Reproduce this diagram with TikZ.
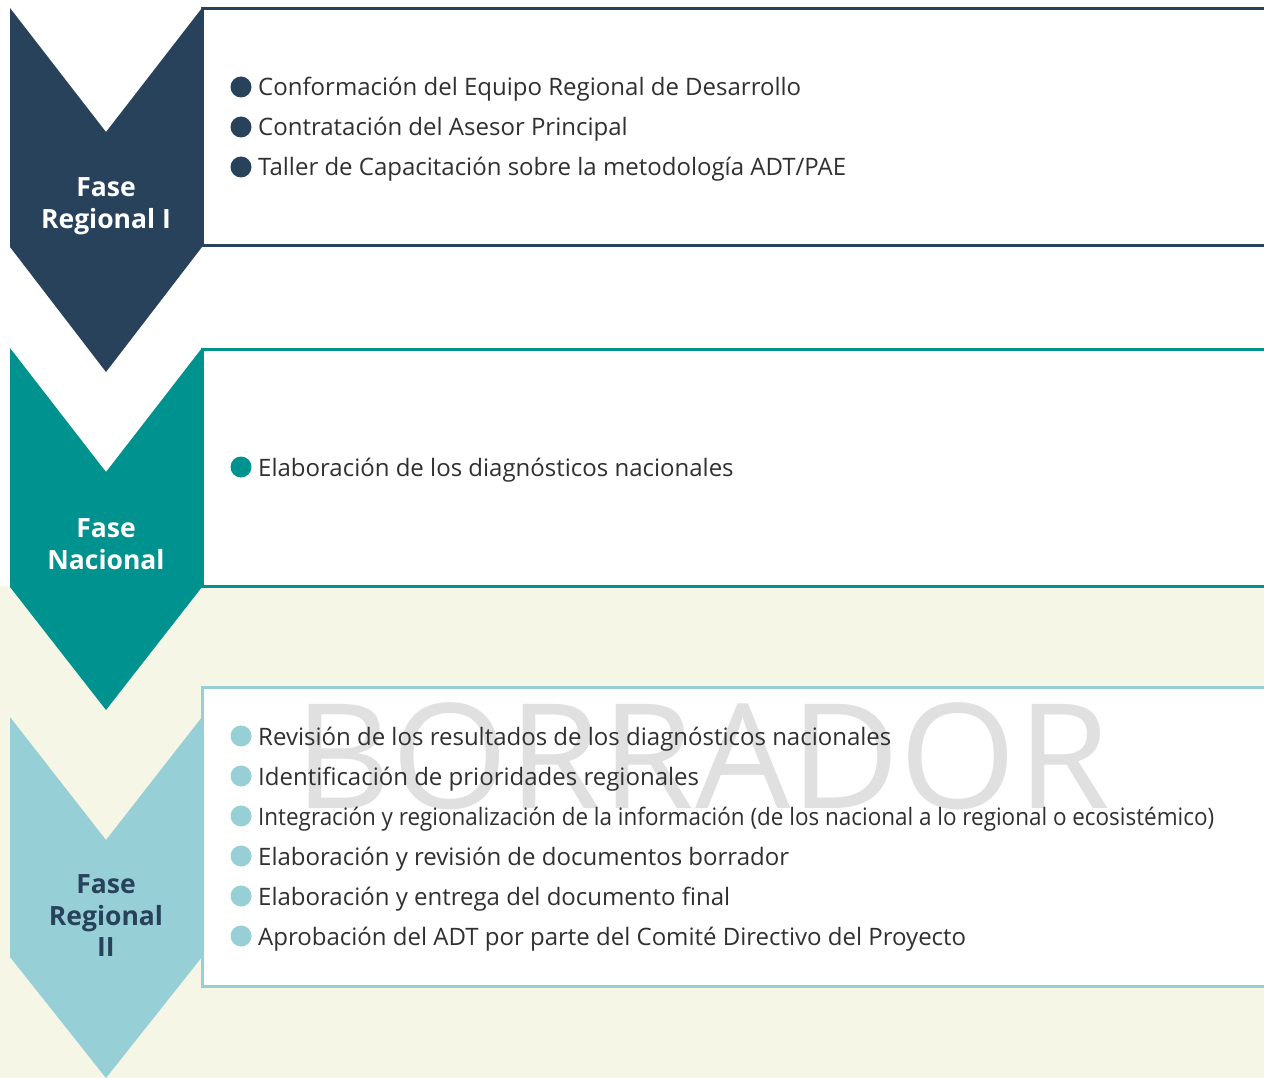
\documentclass[tikz,border=0pt]{standalone}
\usepackage{fontspec}
\setmainfont{Open Sans}
\definecolor{navy}{HTML}{27425A}
\definecolor{tealc}{HTML}{00928E}
\definecolor{lblue}{HTML}{96D0D6}
\definecolor{cream}{HTML}{F6F6E6}
\definecolor{txt}{HTML}{303030}
\definecolor{wm}{HTML}{E0E0E0}
\tikzset{
  bul/.style={circle, inner sep=0pt, minimum size=21pt},
  item/.style={anchor=base west, inner sep=0pt, text=txt, font=\fontsize{24}{24}\selectfont},
  phase/.style={align=center, inner sep=0pt, font=\fontsize{26.5}{31.5}\selectfont\bfseries},
  boxc/.style={line width=3pt, fill=white}
}
\begin{document}
\begin{tikzpicture}[x=1pt,y=-1pt]
\useasboundingbox (0,0) rectangle (1264,1078);
\fill[cream] (0,586) rectangle (1264,1078);
% chevrons
\fill[navy] (10,8) -- (106,132) -- (202,8) -- (202,247) -- (106,372) -- (10,247) -- cycle;
\fill[tealc] (10,348) -- (106,472) -- (202,348) -- (202,587) -- (106,710) -- (10,587) -- cycle;
\fill[lblue] (10,717) -- (106,840) -- (202,717) -- (202,957) -- (106,1078) -- (10,957) -- cycle;
% boxes
\draw[boxc, draw=navy] (202,9) rectangle (1275,246);
\draw[boxc, draw=tealc] (202,349) rectangle (1275,586);
\draw[boxc, draw=lblue] (202,687) rectangle (1275,986);
% watermark
\node[anchor=base west, inner sep=0pt, text=wm, font=\fontsize{146}{146}\selectfont] (wmk) at (294,808) {\resizebox{816pt}{\height}{BORRADOR}};
% phase labels
\node[phase, text=white] (p1) at (106,206) {Fase\\Regional I};
\node[phase, text=white] (p2) at (106,544) {Fase\\Nacional};
\node[phase, text=navy] (p3) at (106,916) {Fase\\Regional\\II};
% bullets phase 1
\foreach \y/\t [count=\i] in {87/{Conformación del Equipo Regional de Desarrollo},127/{Contratación del Asesor Principal},167/{Taller de Capacitación sobre la metodología ADT/PAE}}{
  \node[bul, fill=navy] (ba\i) at (241,\y) {};
  \node[item] (ta\i) at (258,\y+9) {\t};
}
% phase 2
\node[bul, fill=tealc] (bb1) at (241,467) {};
\node[item] (tb1) at (258,476) {Elaboración de los diagnósticos nacionales};
% phase 3
\foreach \y/\t [count=\i] in {736/{Revisión de los resultados de los diagnósticos nacionales},776/{Identificación de prioridades regionales},816/{\resizebox{956pt}{\height}{Integración y regionalización de la información (de los nacional a lo regional o ecosistémico)}},856/{Elaboración y revisión de documentos borrador},896/{Elaboración y entrega del documento final},936/{Aprobación del ADT por parte del Comité Directivo del Proyecto}}{
  \node[bul, fill=lblue] (bc\i) at (241,\y) {};
  \node[item] (tc\i) at (258,\y+9) {\t};
}
\end{tikzpicture}
\end{document}
